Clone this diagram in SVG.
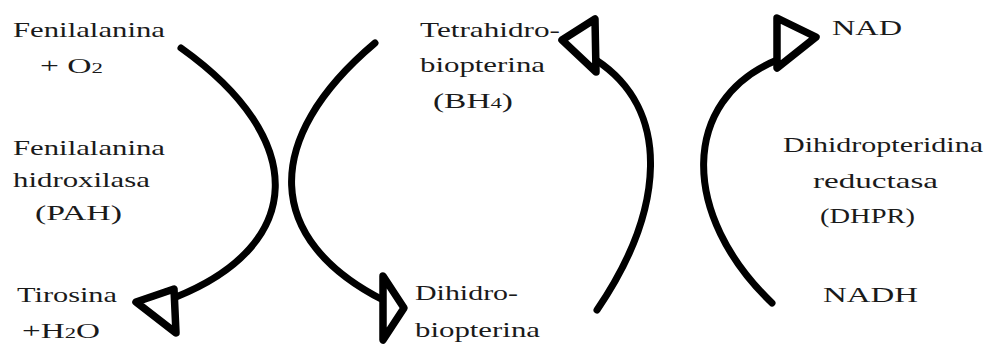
<svg xmlns="http://www.w3.org/2000/svg" width="991" height="347" viewBox="0 0 991 347">
<style>
text{font-family:"Liberation Serif","Times New Roman",serif;font-size:22px;fill:#1a1a1a}
.sub{font-size:15px}
.arc{fill:none;stroke:#000;stroke-width:7;stroke-linecap:round}
.head{fill:#fff;stroke:#000;stroke-width:7.5;stroke-linejoin:round}
</style>
<rect width="991" height="347" fill="#fff"/>
<g id="connectors">
<path class="arc" d="M181,48 C310,140 305,245 176,297"/>
<path class="head" d="M136,302 L174,289 L176,333 Z"/>
<path class="arc" d="M375,43 C260,140 265,240 383,300"/>
<path class="head" d="M383,276 L404,308 L383,340 Z"/>
<path class="arc" d="M597,310 C665,210 672,110 596,60"/>
<path class="head" d="M562,40 L595,19 L596,72 Z"/>
<path class="arc" d="M772,303 C680,215 680,100 777,60"/>
<path class="head" d="M777,18 L816,37 L777,68 Z"/>
</g>
<g id="fenilalanina">
<text x="13" y="37" textLength="152" lengthAdjust="spacingAndGlyphs">Fenilalanina</text>
<text x="40" y="73" textLength="63" lengthAdjust="spacingAndGlyphs">+ O<tspan class="sub">2</tspan></text>
</g>
<g id="pah">
<text x="13" y="155" textLength="152" lengthAdjust="spacingAndGlyphs">Fenilalanina</text>
<text x="13" y="187" textLength="137" lengthAdjust="spacingAndGlyphs">hidroxilasa</text>
<text x="35" y="220" textLength="87" lengthAdjust="spacingAndGlyphs">(PAH)</text>
</g>
<g id="tirosina">
<text x="17" y="302" textLength="100" lengthAdjust="spacingAndGlyphs">Tirosina</text>
<text x="22" y="338" textLength="78" lengthAdjust="spacingAndGlyphs">+H<tspan class="sub">2</tspan>O</text>
</g>
<g id="bh4">
<text x="420" y="37" textLength="140" lengthAdjust="spacingAndGlyphs">Tetrahidro-</text>
<text x="420" y="72" textLength="125" lengthAdjust="spacingAndGlyphs">biopterina</text>
<text x="433" y="108" textLength="80" lengthAdjust="spacingAndGlyphs">(BH<tspan class="sub">4</tspan>)</text>
</g>
<g id="dihidrobiopterina">
<text x="415" y="300" textLength="103" lengthAdjust="spacingAndGlyphs">Dihidro-</text>
<text x="415" y="337" textLength="125" lengthAdjust="spacingAndGlyphs">biopterina</text>
</g>
<g id="nad">
<text x="832" y="35" textLength="70" lengthAdjust="spacingAndGlyphs">NAD</text>
</g>
<g id="dhpr">
<text x="783" y="152" textLength="200" lengthAdjust="spacingAndGlyphs">Dihidropteridina</text>
<text x="813" y="188" textLength="125" lengthAdjust="spacingAndGlyphs">reductasa</text>
<text x="820" y="223" textLength="95" lengthAdjust="spacingAndGlyphs">(DHPR)</text>
</g>
<g id="nadh">
<text x="823" y="302" textLength="95" lengthAdjust="spacingAndGlyphs">NADH</text>
</g>
</svg>
